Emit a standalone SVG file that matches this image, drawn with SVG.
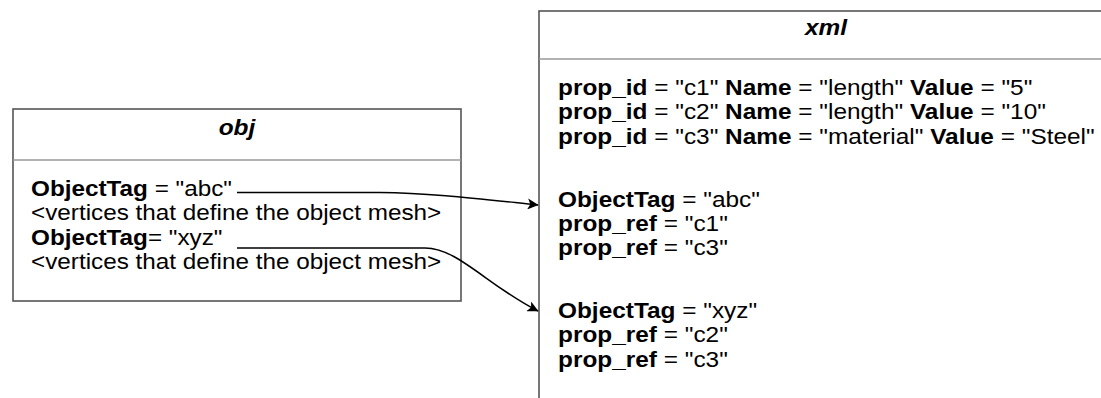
<svg xmlns="http://www.w3.org/2000/svg" width="1101" height="398" viewBox="0 0 1101 398">
<style>
.box{fill:#fff;stroke:#555;stroke-width:1.6}
.div{stroke:#999;stroke-width:1.4}
text{font-family:"Liberation Sans",Arial,sans-serif;font-size:21.6px;fill:#000}
.title{font-weight:bold;font-style:italic;text-anchor:middle}
.b{font-weight:bold}
.conn{fill:none;stroke:#000;stroke-width:1.5}
</style>
<defs>
<marker id="arr" viewBox="0 0 10 10" refX="9.5" refY="5" markerWidth="13" markerHeight="11" markerUnits="userSpaceOnUse" orient="auto">
<path d="M0,0 L10,5 L0,10 L2.5,5 Z" fill="#000"/>
</marker>
</defs>
<rect width="1101" height="398" fill="#fff"/>
<g id="obj">
<rect class="box" x="13" y="109" width="448" height="192"/>
<line class="div" x1="13" y1="160" x2="461" y2="160"/>
<text class="title" transform="translate(237,135) scale(1.13,1)">obj</text>
<text transform="translate(31,196) scale(1.125,1)"><tspan class="b">ObjectTag</tspan> = "abc"</text>
<text transform="translate(31,220.3) scale(1.125,1)">&lt;vertices that define the object mesh&gt;</text>
<text transform="translate(31,244.6) scale(1.125,1)"><tspan class="b">ObjectTag</tspan>= "xyz"</text>
<text transform="translate(31,268.9) scale(1.125,1)">&lt;vertices that define the object mesh&gt;</text>
</g>
<g id="xml">
<rect class="box" x="539" y="11" width="574" height="400"/>
<line class="div" x1="539" y1="59" x2="1113" y2="59"/>
<text class="title" transform="translate(826,35) scale(1.13,1)">xml</text>
<text transform="translate(558,95) scale(1.13,1)"><tspan class="b">prop_id</tspan> = "c1" <tspan class="b">Name</tspan> = "length" <tspan class="b">Value</tspan> = "5"</text>
<text transform="translate(558,119.3) scale(1.13,1)"><tspan class="b">prop_id</tspan> = "c2" <tspan class="b">Name</tspan> = "length" <tspan class="b">Value</tspan> = "10"</text>
<text transform="translate(558,143.6) scale(1.13,1)"><tspan class="b">prop_id</tspan> = "c3" <tspan class="b">Name</tspan> = "material" <tspan class="b">Value</tspan> = "Steel"</text>
<text transform="translate(558,206.7) scale(1.13,1)"><tspan class="b">ObjectTag</tspan> = "abc"</text>
<text transform="translate(558,231) scale(1.13,1)"><tspan class="b">prop_ref</tspan> = "c1"</text>
<text transform="translate(558,255.3) scale(1.13,1)"><tspan class="b">prop_ref</tspan> = "c3"</text>
<text transform="translate(558,318) scale(1.13,1)"><tspan class="b">ObjectTag</tspan> = "xyz"</text>
<text transform="translate(558,342.3) scale(1.13,1)"><tspan class="b">prop_ref</tspan> = "c2"</text>
<text transform="translate(558,366.6) scale(1.13,1)"><tspan class="b">prop_ref</tspan> = "c3"</text>
</g>
<g id="connectors">
<path class="conn" d="M237,192.5 L380,192.5 C430,193 480,199 538,205" marker-end="url(#arr)"/>
<path class="conn" d="M237,248 L425,248 C458,248 488,286 538,311" marker-end="url(#arr)"/>
</g>
</svg>
